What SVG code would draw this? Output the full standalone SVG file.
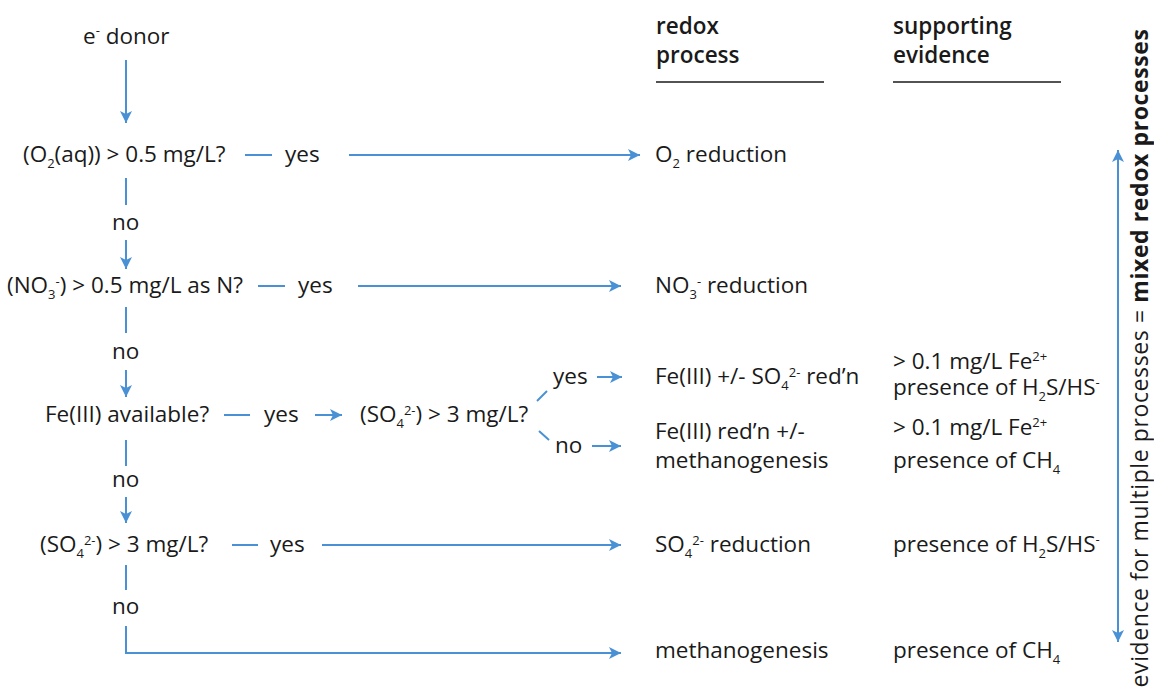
<svg xmlns="http://www.w3.org/2000/svg" width="1154" height="688" viewBox="0 0 1154 688">
<style>
text{font-family:"Open Sans","Noto Sans","Liberation Sans",sans-serif;font-size:22.5px;fill:#1a1a1a}
.h{font-weight:600}
.b{font-weight:700}
.sub{font-size:13px}
.side{font-size:23px;letter-spacing:0.6px}
.c{stroke:#4a90d4;stroke-width:2;fill:none}
.rule{stroke:#1a1a1a;stroke-width:1.6}
</style>
<defs>
<marker id="ah" markerUnits="userSpaceOnUse" markerWidth="14" markerHeight="12" refX="12" refY="6" orient="auto-start-reverse">
<path d="M0,0 L12,6 L0,12 L3,6 Z" fill="#4a90d4"/>
</marker>
</defs>
<rect width="1154" height="688" fill="#fff"/>
<g id="connectors">
<line class="c" x1="126" y1="60" x2="126" y2="123" marker-end="url(#ah)"/>
<line class="c" x1="245" y1="155" x2="272" y2="155"/>
<line class="c" x1="349" y1="155" x2="640" y2="155" marker-end="url(#ah)"/>
<line class="c" x1="126" y1="178" x2="126" y2="205"/>
<line class="c" x1="126" y1="240" x2="126" y2="269" marker-end="url(#ah)"/>
<line class="c" x1="258" y1="286" x2="285" y2="286"/>
<line class="c" x1="358" y1="286" x2="621" y2="286" marker-end="url(#ah)"/>
<line class="c" x1="126" y1="307" x2="126" y2="333"/>
<line class="c" x1="126" y1="370" x2="126" y2="397" marker-end="url(#ah)"/>
<line class="c" x1="224" y1="415" x2="250" y2="415"/>
<line class="c" x1="315" y1="415" x2="342" y2="415" marker-end="url(#ah)"/>
<line class="c" x1="537" y1="401" x2="547" y2="391"/>
<line class="c" x1="597" y1="377" x2="622" y2="377" marker-end="url(#ah)"/>
<line class="c" x1="539" y1="431" x2="549" y2="440"/>
<line class="c" x1="592" y1="446" x2="621" y2="446" marker-end="url(#ah)"/>
<line class="c" x1="126" y1="440" x2="126" y2="466"/>
<line class="c" x1="126" y1="497" x2="126" y2="523" marker-end="url(#ah)"/>
<line class="c" x1="232" y1="545" x2="258" y2="545"/>
<line class="c" x1="322" y1="545" x2="621" y2="545" marker-end="url(#ah)"/>
<line class="c" x1="126" y1="565" x2="126" y2="590"/>
<polyline class="c" points="126,626 126,653 621,653" marker-end="url(#ah)"/>
<line class="c" x1="1118" y1="150" x2="1118" y2="642" marker-start="url(#ah)" marker-end="url(#ah)"/>
</g>
<g id="headers">
<text class="h" x="656" y="34">redox</text>
<text class="h" x="656" y="63">process</text>
<line class="rule" x1="656" y1="82" x2="824" y2="82"/>
<text class="h" x="893" y="34">supporting</text>
<text class="h" x="893" y="63">evidence</text>
<line class="rule" x1="893" y1="82" x2="1061" y2="82"/>
</g>
<g id="start"><text x="83" y="44">e<tspan class="sub" dy="-9">-</tspan><tspan dy="9"> donor</tspan></text></g>
<g id="q1">
<text x="23" y="162">(O<tspan class="sub" dy="6">2</tspan><tspan dy="-6">(aq)) &gt; 0.5 mg/L?</tspan></text>
<text x="285" y="162">yes</text>
</g>
<g id="no1"><text x="112" y="230">no</text></g>
<g id="q2">
<text x="7" y="293">(NO<tspan class="sub" dy="6">3</tspan><tspan class="sub" dy="-13">-</tspan><tspan dy="7">) &gt; 0.5 mg/L as N?</tspan></text>
<text x="298" y="293">yes</text>
</g>
<g id="no2"><text x="112" y="359">no</text></g>
<g id="q3">
<text x="45" y="422">Fe(III) available?</text>
<text x="264" y="422">yes</text>
</g>
<g id="q3b">
<text x="360" y="422">(SO<tspan class="sub" dy="6">4</tspan><tspan class="sub" dy="-13">2-</tspan><tspan dy="7">) &gt; 3 mg/L?</tspan></text>
<text x="553" y="384">yes</text>
<text x="555" y="453">no</text>
</g>
<g id="no3"><text x="112" y="487">no</text></g>
<g id="q4">
<text x="40" y="552">(SO<tspan class="sub" dy="6">4</tspan><tspan class="sub" dy="-13">2-</tspan><tspan dy="7">) &gt; 3 mg/L?</tspan></text>
<text x="270" y="552">yes</text>
</g>
<g id="no4"><text x="112" y="614">no</text></g>
<g id="p1"><text x="655" y="162">O<tspan class="sub" dy="6">2</tspan><tspan dy="-6"> reduction</tspan></text></g>
<g id="p2"><text x="655" y="293">NO<tspan class="sub" dy="6">3</tspan><tspan class="sub" dy="-13">-</tspan><tspan dy="7"> reduction</tspan></text></g>
<g id="p3"><text x="655" y="384">Fe(III) +/- SO<tspan class="sub" dy="6">4</tspan><tspan class="sub" dy="-13">2-</tspan><tspan dy="7"> red’n</tspan></text>
<text x="893" y="369">&gt; 0.1 mg/L Fe<tspan class="sub" dy="-8">2+</tspan></text>
<text x="893" y="395">presence of H<tspan class="sub" dy="6">2</tspan><tspan dy="-6">S/HS</tspan><tspan class="sub" dy="-8">-</tspan></text>
</g>
<g id="p4"><text x="655" y="439">Fe(III) red’n +/-</text>
<text x="655" y="468">methanogenesis</text>
<text x="893" y="435">&gt; 0.1 mg/L Fe<tspan class="sub" dy="-8">2+</tspan></text>
<text x="893" y="468">presence of CH<tspan class="sub" dy="6">4</tspan></text>
</g>
<g id="p5"><text x="655" y="552">SO<tspan class="sub" dy="6">4</tspan><tspan class="sub" dy="-13">2-</tspan><tspan dy="7"> reduction</tspan></text>
<text x="893" y="552">presence of H<tspan class="sub" dy="6">2</tspan><tspan dy="-6">S/HS</tspan><tspan class="sub" dy="-8">-</tspan></text>
</g>
<g id="p6"><text x="655" y="658">methanogenesis</text>
<text x="893" y="658">presence of CH<tspan class="sub" dy="6">4</tspan></text>
</g>
<g id="side"><text class="side" transform="translate(1148,358) rotate(-90)" text-anchor="middle">evidence for multiple processes = <tspan class="b">mixed redox processes</tspan></text></g>
</svg>
